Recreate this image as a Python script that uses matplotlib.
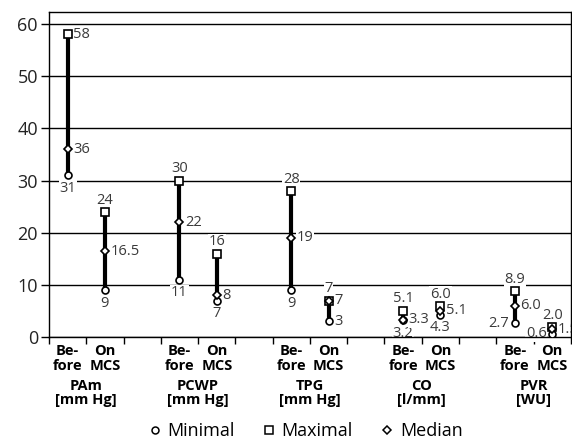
import matplotlib
matplotlib.use('Agg')
import matplotlib.pyplot as plt
from matplotlib.lines import Line2D

plt.rcParams['font.family'] = ['Open Sans', 'DejaVu Sans']

# data
groups = ['PAm\n[mm Hg]', 'PCWP\n[mm Hg]', 'TPG\n[mm Hg]', 'CO\n[l/mm]', 'PVR\n[WU]']
phases = ['Be-\nfore', 'On\nMCS']
min_vals = [31, 9, 11, 7, 9, 3, 3.2, 4.3, 2.7, 0.6]
max_vals = [58, 24, 30, 16, 28, 7, 5.1, 6.0, 8.9, 2.0]
med_vals = [36, 16.5, 22, 8, 19, 7, 3.3, 5.1, 6.0, 1.5]
yticks = [0, 10, 20, 30, 40, 50, 60]

# where the value labels sit (a=above, b=below, r=right, l=left)
min_pos = ['b', 'b', 'b', 'b', 'b', 'r', 'b', 'b', 'l', 'l']
max_pos = ['r', 'a', 'a', 'a', 'a', 'a', 'a', 'a', 'a', 'a']
med_pos = ['r'] * 10

# slot positions: two per group, one empty slot between groups
xs = []
for g in range(len(groups)):
    xs += [3 * g, 3 * g + 1]

def fmt(i, v):
    if i < 6:
        return '{:g}'.format(v)
    return '{:.1f}'.format(v)

offs = {'a': ((0, 3), 'center', 'bottom'),
        'b': ((0, -4), 'center', 'top'),
        'r': ((4, 0), 'left', 'center'),
        'l': ((-4, 0), 'right', 'center')}

fig = plt.figure(figsize=(5.72, 4.43), dpi=100)
ax = fig.add_axes([0.0857, 0.239, 0.9123, 0.734])

for i, x in enumerate(xs):
    ax.plot([x, x], [min_vals[i], max_vals[i]], color='black', lw=3, zorder=3,
            solid_capstyle='butt')
    ax.plot(x, min_vals[i], 'o', ms=5, mfc='white', mec='black', mew=1.2, zorder=4)
    ax.plot(x, max_vals[i], 's', ms=5.5, mfc='white', mec='black', mew=1.2, zorder=4)
    ax.plot(x, med_vals[i], 'D', ms=4, mfc='white', mec='black', mew=1.2, zorder=4)
    for v, p in [(min_vals[i], min_pos[i]), (max_vals[i], max_pos[i]), (med_vals[i], med_pos[i])]:
        off, ha, va = offs[p]
        ax.annotate(fmt(i, v), (x, v), xytext=off, textcoords='offset points',
                    ha=ha, va=va, fontsize=10.5, color='#3a3a3a', zorder=2.2,
                    bbox=dict(boxstyle='square,pad=0.05', fc='white', ec='none'))

ax.set_xlim(-0.5, 13.5)
ax.set_ylim(0, 62.3)
ax.set_yticks(yticks)
ax.set_yticklabels([str(t) for t in yticks], fontsize=13, color='#222222')
ax.yaxis.grid(True, color='black', lw=1.0)
ax.set_axisbelow(True)
ax.set_xticks([b - 0.5 for b in range(15)])
ax.set_xticklabels([])
ax.tick_params(axis='x', direction='out', length=5, width=1)
ax.tick_params(axis='y', direction='out', length=6, width=1, pad=2)
for s in ax.spines.values():
    s.set_linewidth(1.0)

for i, x in enumerate(xs):
    ax.annotate(phases[i % 2], (x, 0), xycoords=('data', 'axes fraction'),
                xytext=(0, -5), textcoords='offset points', ha='center', va='top',
                fontsize=10.5, fontweight='bold', linespacing=1.05)
for g, name in enumerate(groups):
    ax.annotate(name, (3 * g + 0.5, 0), xycoords=('data', 'axes fraction'),
                xytext=(0, -30), textcoords='offset points', ha='center', va='top',
                fontsize=10.5, fontweight='bold', linespacing=1.05)

handles = [Line2D([], [], ls='none', marker='o', ms=5, mfc='white', mec='black', mew=1.1),
           Line2D([], [], ls='none', marker='s', ms=5.5, mfc='white', mec='black', mew=1.1),
           Line2D([], [], ls='none', marker='D', ms=4, mfc='white', mec='black', mew=1.1)]
fig.legend(handles, ['Minimal', 'Maximal', 'Median'], loc='lower center',
           bbox_to_anchor=(0.535, -0.03), ncol=3, frameon=False, fontsize=13,
           handlelength=0.6, handletextpad=0.4, columnspacing=1.6)

fig.savefig('out.png', dpi=100)
